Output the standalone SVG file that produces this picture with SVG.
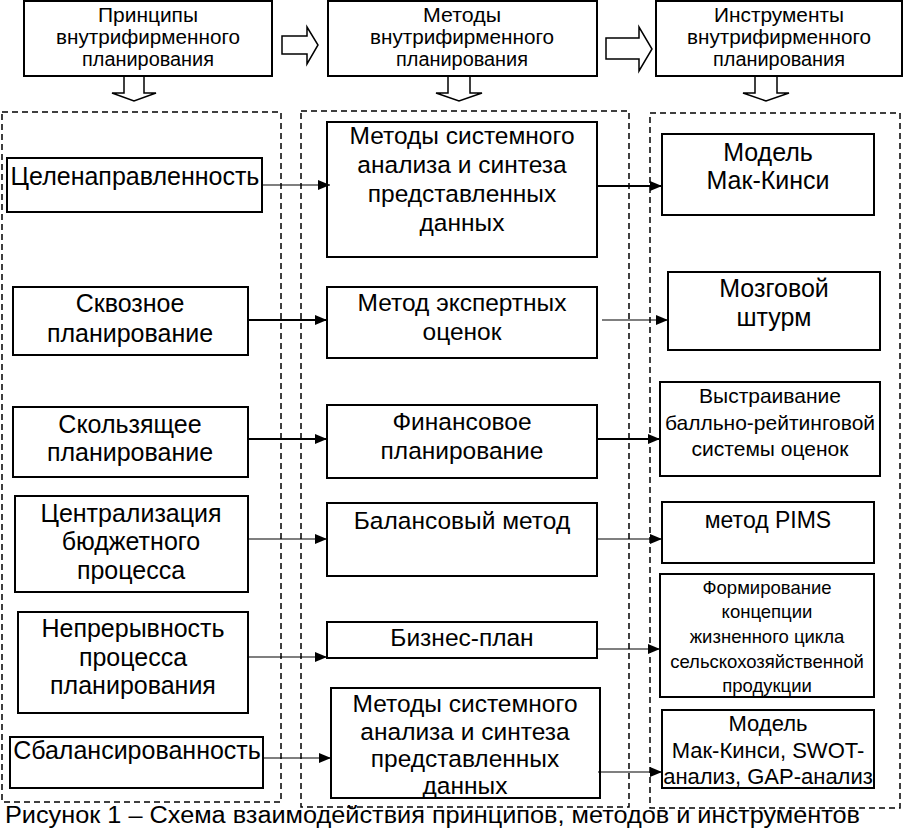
<svg xmlns="http://www.w3.org/2000/svg" width="903" height="829" viewBox="0 0 903 829">
<defs>
<style>
.box{fill:#fff;stroke:#000;stroke-width:2}
.col{fill:none;stroke:#000;stroke-width:1.5;stroke-dasharray:6 4}
.hol{fill:#fff;stroke:#000;stroke-width:1.5;stroke-linejoin:miter}
.t{font-family:"Liberation Sans",Arial,sans-serif;fill:#000;text-anchor:middle}
.h{font-size:20px}
.l{font-size:25px}
.m{font-size:24.5px}
.c{fill:none;stroke:#000;stroke-width:1.2}
.c2{fill:none;stroke:#000;stroke-width:2}
</style>
<marker id="ah" viewBox="0 0 12 10" refX="12" refY="5" markerWidth="12" markerHeight="10" markerUnits="userSpaceOnUse" orient="auto">
<path d="M0,0 L12,5 L0,10 Z" fill="#000"/>
</marker>
</defs>
<rect width="903" height="829" fill="#fff"/>

<!-- column frames -->
<g id="columns">
<rect class="col" x="2" y="112" width="279" height="690"/>
<rect class="col" x="301" y="111" width="328" height="696"/>
<rect class="col" x="650" y="113" width="250" height="695"/>
</g>

<!-- header -->
<g id="h1">
<rect class="box" x="24" y="1" width="248" height="75"/>
<text class="t h" x="148" y="22" textLength="100" lengthAdjust="spacingAndGlyphs">Принципы</text>
<text class="t h" x="148" y="44" textLength="184" lengthAdjust="spacingAndGlyphs">внутрифирменного</text>
<text class="t h" x="148" y="66" textLength="132" lengthAdjust="spacingAndGlyphs">планирования</text>
</g>
<g id="h2">
<rect class="box" x="328" y="1" width="269" height="75"/>
<text class="t h" x="462" y="22" textLength="78" lengthAdjust="spacingAndGlyphs">Методы</text>
<text class="t h" x="462" y="44" textLength="184" lengthAdjust="spacingAndGlyphs">внутрифирменного</text>
<text class="t h" x="462" y="66" textLength="132" lengthAdjust="spacingAndGlyphs">планирования</text>
</g>
<g id="h3">
<rect class="box" x="656" y="1" width="246" height="75"/>
<text class="t h" x="779" y="22" textLength="130" lengthAdjust="spacingAndGlyphs">Инструменты</text>
<text class="t h" x="779" y="44" textLength="184" lengthAdjust="spacingAndGlyphs">внутрифирменного</text>
<text class="t h" x="779" y="66" textLength="132" lengthAdjust="spacingAndGlyphs">планирования</text>
</g>

<!-- hollow arrows -->
<g id="harrows">
<path class="hol" d="M282,36 H307 V27 L318,45 L307,64 V54 H282 Z"/>
<path class="hol" d="M606,38 H639 V27 L652,49 L639,71 V59 H606 Z"/>
<path class="hol" d="M124,77 V93 H112 L134,101 L156,93 H144 V77"/>
<path class="hol" d="M448,77 V93 H436 L459,101 L482,93 H470 V77"/>
<path class="hol" d="M755,77 V93 H743 L766,101 L789,93 H777 V77"/>
</g>

<!-- left column -->
<g id="p1"><rect class="box" x="7" y="158" width="255" height="54"/>
<text class="t l" x="135" y="185">Целенаправленность</text></g>
<g id="p2"><rect class="box" x="13" y="287" width="235" height="68"/>
<text class="t l" x="130" y="312">Сквозное</text>
<text class="t l" x="130" y="342">планирование</text></g>
<g id="p3"><rect class="box" x="13" y="407" width="235" height="70"/>
<text class="t l" x="130" y="433">Скользящее</text>
<text class="t l" x="130" y="461">планирование</text></g>
<g id="p4"><rect class="box" x="15" y="496" width="233" height="96"/>
<text class="t l" x="131" y="522">Централизация</text>
<text class="t l" x="131" y="550">бюджетного</text>
<text class="t l" x="131" y="579">процесса</text></g>
<g id="p5"><rect class="box" x="18" y="612" width="230" height="101"/>
<text class="t l" x="133" y="637">Непрерывность</text>
<text class="t l" x="133" y="666">процесса</text>
<text class="t l" x="133" y="694">планирования</text></g>
<g id="p6"><rect class="box" x="10" y="737" width="253" height="51"/>
<text class="t l" x="137" y="759">Сбалансированность</text></g>

<!-- middle column -->
<g id="m1"><rect class="box" x="327" y="122" width="270" height="135"/>
<text class="t m" x="462" y="144">Методы системного</text>
<text class="t m" x="462" y="173">анализа и синтеза</text>
<text class="t m" x="462" y="202">представленных</text>
<text class="t m" x="462" y="231">данных</text></g>
<g id="m2"><rect class="box" x="327" y="287" width="270" height="71"/>
<text class="t m" x="462" y="311">Метод экспертных</text>
<text class="t m" x="462" y="340">оценок</text></g>
<g id="m3"><rect class="box" x="327" y="405" width="270" height="73"/>
<text class="t m" x="462" y="430">Финансовое</text>
<text class="t m" x="462" y="459">планирование</text></g>
<g id="m4"><rect class="box" x="327" y="503" width="270" height="73"/>
<text class="t m" x="462" y="529">Балансовый метод</text></g>
<g id="m5"><rect class="box" x="327" y="622" width="270" height="36"/>
<text class="t m" x="462" y="646">Бизнес-план</text></g>
<g id="m6"><rect class="box" x="331" y="688" width="269" height="110"/>
<text class="t m" x="465" y="712">Методы системного</text>
<text class="t m" x="465" y="740">анализа и синтеза</text>
<text class="t m" x="465" y="767">представленных</text>
<text class="t m" x="465" y="794">данных</text></g>

<!-- right column -->
<g id="r1"><rect class="box" x="662" y="134" width="212" height="81"/>
<text class="t" style="font-size:25px" x="768" y="161">Модель</text>
<text class="t" style="font-size:25px" x="768" y="189">Мак-Кинси</text></g>
<g id="r2"><rect class="box" x="668" y="272" width="212" height="78"/>
<text class="t" style="font-size:25px" x="774" y="297">Мозговой</text>
<text class="t" style="font-size:25px" x="774" y="326">штурм</text></g>
<g id="r3"><rect class="box" x="660" y="382" width="220" height="94"/>
<text class="t" style="font-size:21px" x="770" y="403">Выстраивание</text>
<text class="t" style="font-size:21px" x="770" y="430">балльно-рейтинговой</text>
<text class="t" style="font-size:21px" x="770" y="456">системы оценок</text></g>
<g id="r4"><rect class="box" x="662" y="502" width="212" height="61"/>
<text class="t" style="font-size:23px" x="768" y="528">метод PIMS</text></g>
<g id="r5"><rect class="box" x="660" y="574" width="214" height="123"/>
<text class="t" style="font-size:18.5px" x="767" y="594">Формирование</text>
<text class="t" style="font-size:18.5px" x="767" y="618">концепции</text>
<text class="t" style="font-size:18.5px" x="767" y="643">жизненного цикла</text>
<text class="t" style="font-size:18.5px" x="767" y="668">сельскохозяйственной</text>
<text class="t" style="font-size:18.5px" x="767" y="692">продукции</text></g>
<g id="r6"><rect class="box" x="662" y="710" width="212" height="78"/>
<text class="t" style="font-size:22px" x="768" y="731">Модель</text>
<text class="t" style="font-size:22px" x="768" y="758">Мак-Кинси, SWOT-</text>
<text class="t" style="font-size:22px" x="768" y="784">анализ, GAP-анализ</text></g>

<!-- connectors -->
<g id="connectors">
<line class="c" x1="262" y1="185" x2="330" y2="185" marker-end="url(#ah)"/>
<line class="c2" x1="248" y1="320" x2="327" y2="320" marker-end="url(#ah)"/>
<line class="c2" x1="248" y1="439" x2="327" y2="439" marker-end="url(#ah)"/>
<line class="c" x1="248" y1="539" x2="327" y2="539" marker-end="url(#ah)"/>
<line class="c" x1="248" y1="657" x2="327" y2="657" marker-end="url(#ah)"/>
<line class="c" x1="263" y1="758" x2="331" y2="758" marker-end="url(#ah)"/>
<line class="c2" x1="597" y1="186" x2="662" y2="186" marker-end="url(#ah)"/>
<line class="c" x1="602" y1="320" x2="668" y2="320" marker-end="url(#ah)"/>
<line class="c2" x1="597" y1="439" x2="660" y2="439" marker-end="url(#ah)"/>
<line class="c" x1="597" y1="539" x2="662" y2="539" marker-end="url(#ah)"/>
<line class="c" x1="597" y1="649" x2="660" y2="649" marker-end="url(#ah)"/>
<line class="c" x1="598" y1="772" x2="662" y2="772" marker-end="url(#ah)"/>
</g>

<text class="t" style="font-size:23px;text-anchor:start" x="5" y="823" textLength="855" lengthAdjust="spacingAndGlyphs">Рисунок 1 – Схема взаимодействия принципов, методов и инструментов</text>
</svg>
